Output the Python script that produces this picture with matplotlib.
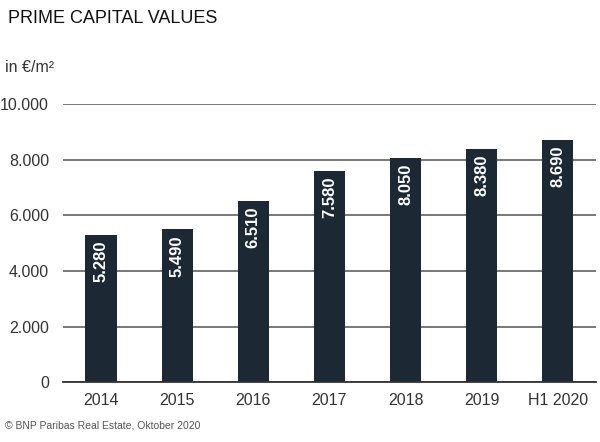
import matplotlib.pyplot as plt
from matplotlib.ticker import FuncFormatter

plt.rcParams["font.family"] = ["Liberation Sans", "DejaVu Sans"]

categories = ["2014", "2015", "2016", "2017", "2018", "2019", "H1 2020"]
values = [5280, 5490, 6510, 7580, 8050, 8380, 8690]
y_ticks = [0, 2000, 4000, 6000, 8000, 10000]

BAR_COLOR = "#1c2935"
TEXT_COLOR = "#333333"

fig = plt.figure(figsize=(6, 4.42), dpi=100)
ax = fig.add_axes([0.105, 0.135, 0.888, 0.63])

x = range(len(categories))
bars = ax.bar(x, values, width=0.41, color=BAR_COLOR, zorder=2)

# value labels, rotated, just under the top of each bar
for bar, val in zip(bars, values):
    ax.annotate(
        f"{val:,}".replace(",", "."),
        xy=(bar.get_x() + bar.get_width() / 2, bar.get_height()),
        xytext=(0, -4),
        textcoords="offset points",
        rotation=90,
        ha="center",
        va="top",
        color="white",
        fontsize=12,
        fontweight="bold",
        zorder=3,
    )

ax.set_xlim(-0.5, 6.5)
ax.set_ylim(0, 10000)
ax.set_xticks(list(x))
ax.set_xticklabels(categories)
ax.set_yticks(y_ticks)
ax.yaxis.set_major_formatter(FuncFormatter(lambda v, _: f"{int(v):,}".replace(",", ".")))
ax.grid(axis="y", color="#555555", linewidth=1.1, zorder=0)
ax.tick_params(length=0, labelsize=11.5, colors=TEXT_COLOR)
ax.tick_params(axis="y", pad=10)
ax.tick_params(axis="x", pad=8)
for side in ["top", "right", "left"]:
    ax.spines[side].set_visible(False)
ax.spines["bottom"].set_color("#333333")
ax.spines["bottom"].set_linewidth(1.3)

fig.text(0.013, 0.958, "PRIME CAPITAL VALUES", fontsize=13, color="#111111", va="center")
fig.text(0.008, 0.848, "in €/m²", fontsize=11.5, color=TEXT_COLOR, va="center")
fig.text(0.008, 0.038, "© BNP Paribas Real Estate, Oktober 2020", fontsize=7.5, color="#555555", va="center")

fig.savefig("out.png", dpi=100)
